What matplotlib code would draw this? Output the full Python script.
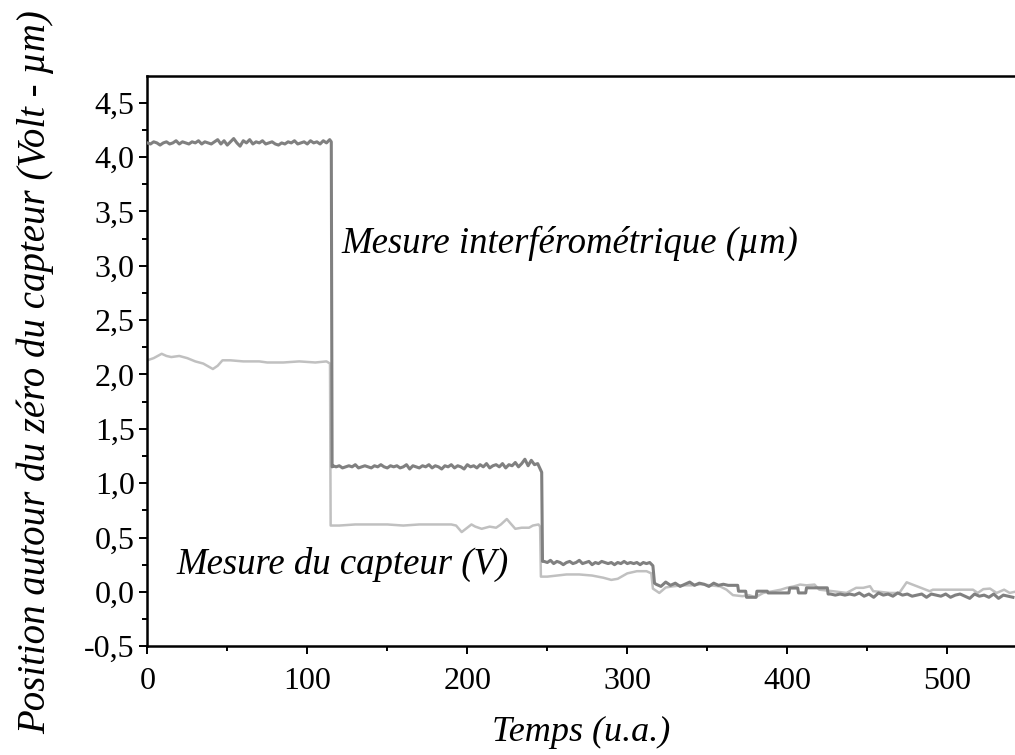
import numpy as np
import matplotlib
matplotlib.use('Agg')
import matplotlib.pyplot as plt
from matplotlib.ticker import MultipleLocator, FuncFormatter

plt.rcParams['font.family'] = ['Liberation Serif', 'DejaVu Serif']

# mesure interferometrique (um)
t_interf = (list(range(0, 116, 2)) + [115, 115.5]
            + list(range(116, 246, 2)) + [246.5, 247]
            + list(range(248, 316, 2)) + [316, 317]
            + [318, 321, 324, 327, 330, 333, 336, 339, 342, 345, 348, 351, 354, 357, 360, 363, 366,
               369, 369.5, 374, 374.5, 380.5, 381, 387.5, 388, 401, 401.5, 406.5, 407, 411.5, 412,
               425, 425.5]
            + [427, 430, 433, 436, 439, 442, 445, 448, 451, 454, 457, 460, 463, 466, 469, 472,
               475, 478, 481, 484, 487, 490, 493, 496, 499, 502, 505, 508, 511, 514, 517, 520,
               523, 526, 529, 532, 535, 538, 541])
v_interf = ([4.13, 4.12, 4.14, 4.13, 4.11, 4.13, 4.14, 4.12, 4.13, 4.15, 4.12, 4.14, 4.13, 4.12,
             4.14, 4.13, 4.15, 4.12, 4.14, 4.13, 4.12, 4.14, 4.16, 4.12, 4.15, 4.11, 4.14, 4.17,
             4.13, 4.10, 4.15, 4.13, 4.16, 4.12, 4.14, 4.13, 4.15, 4.12, 4.13, 4.14, 4.12, 4.11,
             4.13, 4.12, 4.14, 4.13, 4.15, 4.12, 4.13, 4.14, 4.12, 4.15, 4.13, 4.14, 4.12, 4.15,
             4.13, 4.16, 4.14, 1.15]
            + [1.16, 1.15, 1.16, 1.14, 1.15, 1.16, 1.15, 1.17, 1.14, 1.15, 1.16, 1.15, 1.14, 1.16,
               1.15, 1.17, 1.15, 1.14, 1.16, 1.15, 1.16, 1.14, 1.15, 1.17, 1.13, 1.16, 1.15, 1.14,
               1.16, 1.15, 1.17, 1.14, 1.16, 1.15, 1.13, 1.16, 1.15, 1.17, 1.14, 1.16, 1.15, 1.13,
               1.17, 1.15, 1.16, 1.14, 1.17, 1.15, 1.18, 1.14, 1.16, 1.17, 1.15, 1.18, 1.14, 1.17,
               1.16, 1.19, 1.15, 1.18, 1.22, 1.16, 1.21, 1.17, 1.18, 1.10, 0.28]
            + [0.28, 0.27, 0.29, 0.26, 0.28, 0.27, 0.25, 0.27, 0.28, 0.26, 0.27, 0.29, 0.26, 0.27,
               0.28, 0.25, 0.27, 0.26, 0.28, 0.27, 0.26, 0.27, 0.25, 0.27, 0.26, 0.28, 0.26, 0.27,
               0.26, 0.27, 0.25, 0.27, 0.26, 0.27, 0.24, 0.08]
            + [0.07, 0.05, 0.09, 0.06, 0.08, 0.05, 0.07, 0.09, 0.06, 0.08, 0.07, 0.05, 0.08, 0.06,
               0.07, 0.06, 0.06,
               0.06, 0.006, 0.006, -0.05, -0.05, 0.006, 0.006, -0.01, -0.01, 0.035, 0.035, -0.01,
               -0.01, 0.037, 0.037, -0.02]
            + [-0.02, -0.03, -0.02, -0.03, -0.02, -0.03, -0.01, -0.04, -0.02, -0.05, -0.01, -0.03,
               -0.02, -0.04, -0.01, -0.03, -0.02, -0.04, -0.03, -0.02, -0.05, -0.02, -0.03, -0.04,
               -0.02, -0.05, -0.03, -0.02, -0.04, -0.06, -0.02, -0.04, -0.03, -0.05, -0.02, -0.06,
               -0.03, -0.04, -0.05])

# mesure du capteur (V)
t_capt = [0, 4, 9, 12, 15, 20, 25, 30, 35, 41, 44, 47, 52, 60, 70, 75, 85, 95, 105, 112,
          114.2, 114.6, 120, 130, 140, 150, 160, 170, 180, 190, 193, 196.5, 202.6, 205, 209,
          214, 218, 221, 224.7, 227, 230, 234, 238.6, 241, 244.5, 245.5, 246, 250, 256, 262,
          270, 278, 285, 290, 294, 300, 306, 312, 315, 316, 320, 324, 328, 334, 340, 346, 352,
          358, 362, 366, 372, 376, 380, 385, 391, 396, 399.6, 404, 408, 412, 417, 420, 428.5,
          437, 443, 447.5, 451.7, 453.7, 458, 464, 470, 474.6, 477.7, 483, 489, 491, 500, 510,
          516, 519, 522.5, 526.7, 530.8, 535.5, 539, 542]
v_capt = [2.13, 2.15, 2.19, 2.17, 2.16, 2.17, 2.15, 2.12, 2.10, 2.05, 2.08, 2.13, 2.13, 2.12,
          2.12, 2.11, 2.11, 2.12, 2.11, 2.12, 2.10, 0.61, 0.61, 0.62, 0.62, 0.62, 0.61, 0.62,
          0.62, 0.62, 0.61, 0.55, 0.62, 0.60, 0.58, 0.60, 0.59, 0.62, 0.67, 0.63, 0.58, 0.59,
          0.59, 0.61, 0.62, 0.60, 0.14, 0.14, 0.15, 0.16, 0.16, 0.15, 0.13, 0.11, 0.12, 0.17,
          0.19, 0.19, 0.17, 0.03, -0.01, 0.04, 0.05, 0.06, 0.06, 0.07, 0.06, 0.05, 0.02, -0.03,
          -0.04, -0.03, -0.05, -0.01, 0.006, 0.02, 0.037, 0.05, 0.067, 0.06, 0.067, 0.02, 0.006,
          -0.01, 0.037, 0.037, 0.052, 0.006, 0.0, -0.01, -0.01, 0.088, 0.07, 0.04, 0.006, 0.02,
          0.02, 0.02, 0.02, -0.01, 0.025, 0.03, -0.01, 0.02, -0.01, 0.0]

fig = plt.figure(figsize=(10.15, 7.55), dpi=100)
ax = fig.add_axes([0.1451, 0.1441, 0.8549, 0.7556])

ax.plot(t_capt, v_capt, color='#c0c0c0', lw=1.8, zorder=2)
ax.plot(t_interf, v_interf, color='#808080', lw=2.2, zorder=3)

ax.set_xlim(0, 542.3)
ax.set_ylim(-0.5, 4.748)

ax.xaxis.set_major_locator(MultipleLocator(100))
ax.xaxis.set_minor_locator(MultipleLocator(50))
ax.yaxis.set_major_locator(MultipleLocator(0.5))
ax.yaxis.set_minor_locator(MultipleLocator(0.25))
ax.yaxis.set_major_formatter(FuncFormatter(lambda v, p: ('%.1f' % v).replace('.', ',')))

ax.tick_params(which='both', direction='out', width=1.4, labelsize=23, top=False, right=False)
ax.tick_params(which='major', length=6)
ax.tick_params(which='minor', length=3.5)
ax.tick_params(axis='x', pad=9)
ax.tick_params(axis='y', pad=3)

ax.spines['right'].set_visible(False)
for s in ['left', 'bottom', 'top']:
    ax.spines[s].set_linewidth(1.8)

ax.set_xlabel('Temps (u.a.)', fontsize=26, style='italic', labelpad=14)
fig.text(35 / 1015, 0.507, 'Position autour du zéro du capteur (Volt - µm)', fontsize=28,
         style='italic', rotation=90, ha='center', va='center')

ax.text(121.5, 3.12, 'Mesure interférométrique (µm)', fontsize=26.5, style='italic',
        va='baseline', ha='left')
ax.text(18, 0.167, 'Mesure du capteur (V)', fontsize=26.5, style='italic',
        va='baseline', ha='left')

fig.savefig('out.png', dpi=100)
